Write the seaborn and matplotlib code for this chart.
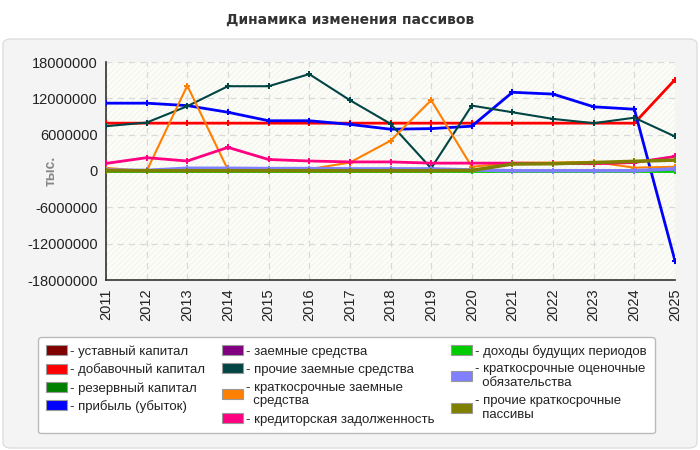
import numpy as np
import pandas as pd
import matplotlib
matplotlib.use("Agg")
import matplotlib.pyplot as plt
from matplotlib.patches import FancyBboxPatch, Rectangle, Patch
import seaborn as sns

sns.set_style("white")
plt.rcParams["font.family"] = ["Liberation Sans", "DejaVu Sans"]
plt.rcParams["hatch.linewidth"] = 0.6

years = list(range(2011, 2026))
nan = np.nan

# values, тыс.
ustavny = [nan] * 15
dobavochny = [7.9e6] * 14 + [15.1e6]
rezervny = [nan] * 15
pribyl = [11.2e6, 11.2e6, 10.8e6, 9.7e6, 8.3e6, 8.3e6, 7.7e6, 6.9e6, 7.0e6, 7.4e6,
          13.0e6, 12.7e6, 10.6e6, 10.2e6, -14.85e6]
zaemnye = [nan] * 15
prochie_zaemnye = [7.4e6, 8.0e6, 10.7e6, 14.0e6, 14.0e6, 16.0e6, 11.7e6, 7.8e6, 0.45e6, 10.8e6,
                   9.7e6, 8.6e6, 7.9e6, 8.8e6, 5.7e6]
kratk_zaemnye = [0.5e6, 0.0, 14.1e6, 0.2e6, 0.1e6, 0.3e6, 1.4e6, 5.0e6, 11.7e6, 0.7e6,
                 1.35e6, 1.4e6, 1.5e6, 0.55e6, 0.7e6]
kreditorskaya = [1.25e6, 2.2e6, 1.65e6, 3.9e6, 1.9e6, 1.65e6, 1.5e6, 1.5e6, 1.3e6, 1.3e6,
                 1.3e6, 1.25e6, 1.2e6, 1.4e6, 2.4e6]
dohody = [0.0] * 15
ocenochnye = [0.15e6, 0.1e6, 0.45e6, 0.45e6, 0.4e6, 0.4e6, 0.35e6, 0.35e6, 0.35e6, 0.17e6,
              0.05e6, 0.05e6, 0.05e6, 0.05e6, 0.35e6]
prochie_kratk = [0.05e6] * 9 + [0.1e6, 1.15e6, 1.2e6, 1.4e6, 1.6e6, 1.8e6]

names = ["уставный капитал", "добавочный капитал", "резервный капитал", "прибыль (убыток)",
         "заемные средства", "прочие заемные средства", "краткосрочные заемные\nсредства",
         "кредиторская задолженность", "доходы будущих периодов",
         "краткосрочные оценочные\nобязательства", "прочие краткосрочные\nпассивы"]
series = [ustavny, dobavochny, rezervny, pribyl, zaemnye, prochie_zaemnye, kratk_zaemnye,
          kreditorskaya, dohody, ocenochnye, prochie_kratk]
colors = ["#800000", "#ff0000", "#008000", "#0000ff", "#800080", "#004444", "#ff8000",
          "#ff0080", "#00cc00", "#8080ff", "#808000"]
widths = [2, 2, 2, 2, 2, 1.5, 1.5, 2, 2, 2.5, 2.5]

fig = plt.figure(figsize=(7, 4.5), dpi=100)
fig.patch.set_facecolor("white")
fig.patches.append(FancyBboxPatch((3 / 700, 2 / 450), 694 / 700, 409 / 450,
                                  boxstyle="round,pad=0,rounding_size=0.012",
                                  transform=fig.transFigure, facecolor="#f4f4f4",
                                  edgecolor="#dedede", lw=1, zorder=-10))
fig.text(0.5, 1 - 20 / 450, "Динамика изменения пассивов", ha="center", va="center",
         fontsize=10, fontweight="bold", color="#333333", family="DejaVu Sans")

ax = fig.add_axes([106 / 700, 1 - 280 / 450, 569 / 700, 218 / 450])
ax.set_facecolor("#fdfdf8")
ax.add_patch(Rectangle((0, 0), 1, 1, transform=ax.transAxes, facecolor="#fdfdf8",
                       edgecolor="#f0f0ec", hatch="//////", lw=0, zorder=0))

for name, vals, c, w in zip(names, series, colors, widths):
    df = pd.DataFrame({"year": years, "value": vals}).dropna()
    if df.empty:
        continue
    sns.lineplot(data=df, x="year", y="value", ax=ax, color=c, linewidth=w,
                 marker="P", markersize=4.5, markeredgewidth=0, zorder=3)

ax.set_xlim(2011, 2025)
ax.set_ylim(-18e6, 18e6)
ax.set_xticks(years)
ax.set_xticklabels([str(y) for y in years], rotation=90, fontsize=10.5, color="#222222")
yt = [18000000, 12000000, 6000000, 0, -6000000, -12000000, -18000000]
ax.set_yticks(yt)
ax.set_yticklabels([str(v) for v in yt], fontsize=10.5, color="#222222")
ax.tick_params(axis="both", length=4, width=1, color="#333333", direction="out", pad=2)
ax.grid(True, color="#d9d9d9", linestyle=(0, (5, 4)), linewidth=0.9)
ax.set_axisbelow(True)
for s in ["top", "right"]:
    ax.spines[s].set_visible(False)
for s in ["left", "bottom"]:
    ax.spines[s].set_color("#333333")
    ax.spines[s].set_linewidth(1.2)
ax.set_xlabel("")
ax.set_ylabel("тыс.", fontsize=10, color="#888888", fontweight="bold")
ax.yaxis.set_label_coords(-0.085, 0.5)

handles = [Patch(facecolor=c, edgecolor="#999999", lw=0.8) for c in colors]
labels = ["- " + n.replace("\n", "\n  ") for n in names]
leg = fig.legend(handles, labels, ncol=3, loc="upper left",
                 bbox_to_anchor=(38 / 700, 1 - 337 / 450), borderaxespad=0, fontsize=9.5,
                 frameon=True, fancybox=True, edgecolor="#bbbbbb", facecolor="white",
                 framealpha=1, handlelength=1.6, handleheight=0.8, handletextpad=0.2,
                 columnspacing=1.3, labelspacing=0.42, borderpad=0.6)
for t in leg.get_texts():
    t.set_color("#222222")

fig.savefig("out.png", dpi=100)
